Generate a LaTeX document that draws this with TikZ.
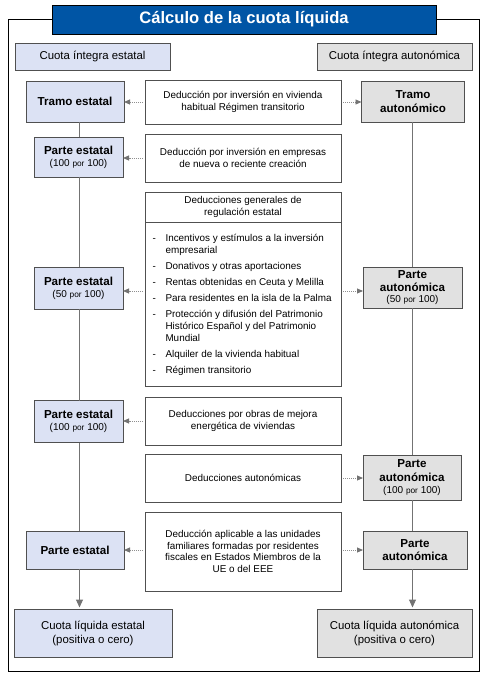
\documentclass[tikz,border=0pt]{standalone}
\usepackage{fontspec}
\setmainfont{Liberation Sans}
\usetikzlibrary{arrows.meta}
\definecolor{lfill}{RGB}{220,226,244}
\definecolor{rfill}{RGB}{225,225,225}
\definecolor{bordc}{RGB}{80,80,80}
\definecolor{linec}{RGB}{115,115,115}
\definecolor{titleblue}{RGB}{0,85,165}
\newcommand{\smpor}{{\fontsize{8.3}{9}\selectfont por}}
\newcommand{\pct}[1]{{\normalfont\fontsize{10}{11}\selectfont #1}}
\begin{document}
\begin{tikzpicture}[x=1pt,y=-1pt,
 every node/.style={inner sep=0pt, outer sep=0pt},
 base/.style={draw=bordc, line width=0.8pt, align=center},
 lbox/.style={base, fill=lfill},
 rbox/.style={base, fill=rfill},
 wbox/.style={base, fill=white, font=\fontsize{9.9}{12.5}\selectfont},
 lab/.style={font=\bfseries\fontsize{11.6}{14}\selectfont},
 cuota/.style={font=\fontsize{11.4}{14}\selectfont},
 vline/.style={draw=linec, line width=1pt},
 dotarrow/.style={draw=linec!80, line width=0.9pt, dash pattern=on 1pt off 1pt, -{Triangle[length=6pt,width=5pt,fill=linec,color=linec]}, shorten <=2pt},
 downarrow/.style={vline, -{Triangle[length=8pt,width=7pt]}, shorten >=1.5pt}
]
\useasboundingbox (0,0) rectangle (487,676);
\node[draw=black, line width=0.8pt, minimum width=471pt, minimum height=652pt] (frame) at (243.5,345) {};
\node[draw=black, line width=0.8pt, fill=titleblue, minimum width=384pt, minimum height=29pt, text=white, font=\bfseries\fontsize{16.6}{18}\selectfont] (title) at (244,19.5) {Cálculo de la cuota líquida};

\node[lbox, font=\fontsize{11.4}{13}\selectfont, minimum width=155pt, minimum height=27pt] (cie) at (92.5,56.5) {Cuota íntegra estatal};
\node[rbox, font=\fontsize{11.4}{13}\selectfont, minimum width=155pt, minimum height=27pt] (cia) at (394.5,56.5) {Cuota íntegra autonómica};

\node[lbox, lab, minimum width=98pt, minimum height=41pt] (tramoE) at (75,101.5) {Tramo estatal};
\node[wbox, minimum width=196pt, minimum height=44pt] (m1) at (243,102) {Deducción por inversión en vivienda\\habitual Régimen transitorio};
\node[rbox, lab, minimum width=103pt, minimum height=41pt] (tramoA) at (413,101.5) {Tramo\\autonómico};

\node[lbox, lab, minimum width=89pt, minimum height=40pt] (pe1) at (78.5,157) {Parte estatal\\[-2pt]\pct{(100 \smpor{} 100)}};
\node[wbox, minimum width=196pt, minimum height=48pt] (m2) at (243,158) {Deducción por inversión en empresas\\de nueva o reciente creación};

\node[wbox, minimum width=196pt, minimum height=30pt] (mh) at (243,207) {Deducciones generales de\\regulación estatal};
\node[wbox, minimum width=196pt, minimum height=164pt] (ml) at (243,304) {};
\node[anchor=north west, align=left, font=\fontsize{9.9}{12}\selectfont] (items) at (152.5,234.5) {%
\makebox[13pt][l]{-}Incentivos y estímulos a la inversión\\
\hspace*{13pt}empresarial\\[4pt]
\makebox[13pt][l]{-}Donativos y otras aportaciones\\[4pt]
\makebox[13pt][l]{-}Rentas obtenidas en Ceuta y Melilla\\[4pt]
\makebox[13pt][l]{-}Para residentes en la isla de la Palma\\[4pt]
\makebox[13pt][l]{-}Protección y difusión del Patrimonio\\
\hspace*{13pt}Histórico Español y del Patrimonio\\
\hspace*{13pt}Mundial\\[4pt]
\makebox[13pt][l]{-}Alquiler de la vivienda habitual\\[4pt]
\makebox[13pt][l]{-}Régimen transitorio};

\node[lbox, lab, minimum width=89pt, minimum height=42pt] (pe2) at (78.5,288) {Parte estatal\\[-2pt]\pct{(50 \smpor{} 100)}};
\node[rbox, lab, minimum width=99pt, minimum height=41pt] (pa2) at (412.5,287.5) {Parte\\[-1pt]autonómica\\[-3pt]\pct{(50 \smpor{} 100)}};

\node[lbox, lab, minimum width=89pt, minimum height=42pt] (pe3) at (78.5,421.5) {Parte estatal\\[-2pt]\pct{(100 \smpor{} 100)}};
\node[wbox, minimum width=196pt, minimum height=48pt] (m3) at (243,421) {Deducciones por obras de mejora\\energética de viviendas};

\node[wbox, minimum width=196pt, minimum height=48pt] (m4) at (243,478) {Deducciones autonómicas};
\node[rbox, lab, minimum width=98pt, minimum height=45pt] (pa3) at (412,477.5) {Parte\\autonómica\\[-2pt]\pct{(100 \smpor{} 100)}};

\node[wbox, minimum width=196pt, minimum height=79pt, font=\fontsize{9.9}{11.7}\selectfont] (m5) at (243,551.5) {Deducción aplicable a las unidades\\familiares formadas por residentes\\fiscales en Estados Miembros de la\\UE o del EEE};
\node[lbox, lab, minimum width=98pt, minimum height=38pt] (pe4) at (75,550) {Parte estatal};
\node[rbox, lab, minimum width=104pt, minimum height=38pt] (pa4) at (415,550) {Parte\\[-1pt]autonómica};

\node[lbox, cuota, minimum width=158pt, minimum height=48pt] (cle) at (93,633) {Cuota líquida estatal\\(positiva o cero)};
\node[rbox, cuota, minimum width=155pt, minimum height=48pt] (cla) at (394.5,633) {Cuota líquida autonómica\\(positiva o cero)};

\coordinate (LX) at (79.5,0);
\coordinate (RX) at (412.5,0);
\coordinate (A50) at (0,291);

\draw[vline] (tramoE.south -| LX) -- (pe1.north -| LX);
\draw[vline] (pe1.south -| LX) -- (pe2.north -| LX);
\draw[vline] (pe2.south -| LX) -- (pe3.north -| LX);
\draw[vline] (pe3.south -| LX) -- (pe4.north -| LX);
\draw[downarrow] (pe4.south -| LX) -- (cle.north -| LX);
\draw[vline] (tramoA.south -| RX) -- (pa2.north -| RX);
\draw[vline] (pa2.south -| RX) -- (pa3.north -| RX);
\draw[vline] (pa3.south -| RX) -- (pa4.north -| RX);
\draw[downarrow] (pa4.south -| RX) -- (cla.north -| RX);

\draw[dotarrow] (m1.west) -- (m1.west -| tramoE.east);
\draw[dotarrow] (m1.east) -- (m1.east -| tramoA.west);
\draw[dotarrow] (m2.west) -- (m2.west -| pe1.east);
\draw[dotarrow] (ml.west |- A50) -- (pe2.east |- A50);
\draw[dotarrow] (ml.east |- A50) -- (pa2.west |- A50);
\draw[dotarrow] (m3.west) -- (m3.west -| pe3.east);
\draw[dotarrow] (m4.east) -- (m4.east -| pa3.west);
\draw[dotarrow] (m5.west |- pe4.east) -- (pe4.east);
\draw[dotarrow] (m5.east |- pa4.west) -- (pa4.west);
\end{tikzpicture}
\end{document}
